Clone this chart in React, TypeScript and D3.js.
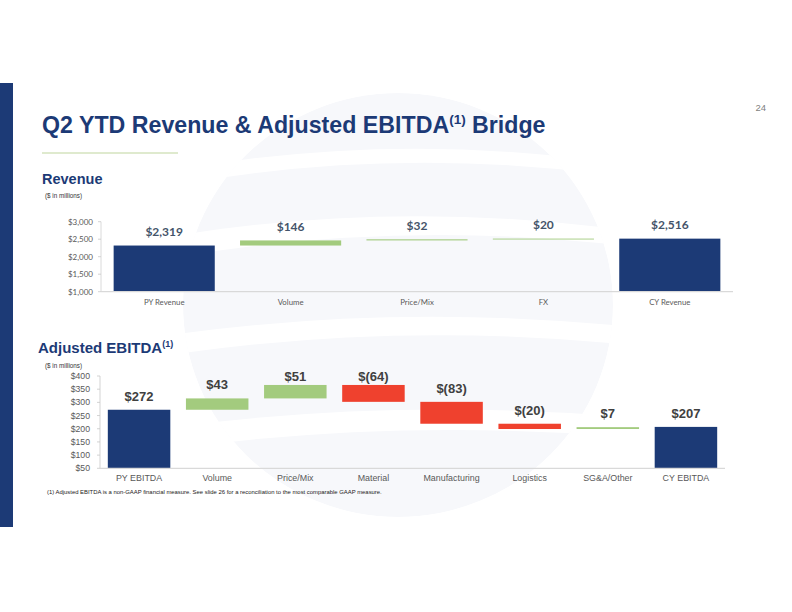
import React from "react";
import * as d3 from "d3";

const revCategories = ["PY Revenue", "Volume", "Price/Mix", "FX", "CY Revenue"];
const revValues = [2319, 146, 32, 20, 2516];
const revIsTotal = [true, false, false, false, true];
const revTicks = [1000, 1500, 2000, 2500, 3000];

const ebCategories = ["PY EBITDA", "Volume", "Price/Mix", "Material", "Manufacturing", "Logistics", "SG&A/Other", "CY EBITDA"];
const ebValues = [272, 43, 51, -64, -83, -20, 7, 207];
const ebIsTotal = [true, false, false, false, false, false, false, true];
const ebTicks = [50, 100, 150, 200, 250, 300, 350, 400];

const NAVY = "#1C3A76";
const GREEN = "#A3CB7E";
const RED = "#EF412E";

type Seg = { cat: string; y0: number; y1: number; v: number; total: boolean };

function waterfall(cats: string[], vals: number[], totals: boolean[]): Seg[] {
  let run = 0;
  return cats.map((c, i) => {
    if (totals[i]) {
      run = vals[i];
      return { cat: c, y0: 0, y1: vals[i], v: vals[i], total: true };
    }
    const s = { cat: c, y0: run, y1: run + vals[i], v: vals[i], total: false };
    run += vals[i];
    return s;
  });
}

const fmtRev = d3.format("$,");
const fmtEb = (v: number) => (v < 0 ? `$(${Math.abs(v)})` : `$${v}`);

export default function App() {
  const revSegs = waterfall(revCategories, revValues, revIsTotal);
  const ebSegs = waterfall(ebCategories, ebValues, ebIsTotal);

  const xRev = d3.scaleBand().domain(revCategories).range([101, 733]).paddingInner(0.2).paddingOuter(0.1);
  const yRev = d3.scaleLinear().domain([1000, 3000]).range([291.7, 221.7]);

  const xEb = d3.scaleBand().domain(ebCategories).range([100, 725]).paddingInner(0.2).paddingOuter(0.1);
  const yEb = d3.scaleLinear().domain([50, 400]).range([468.3, 376]);

  const revFont = "Lato, 'Open Sans', sans-serif";
  const arial = "'Liberation Sans', Arial, sans-serif";

  return (
    <svg width={792} height={612} style={{ position: "absolute", left: 0, top: 0, background: "#fff" }}>
      {/* faint watermark */}
      <defs>
        <clipPath id="globe">
          <ellipse cx={398} cy={305} rx={215} ry={212} />
        </clipPath>
      </defs>
      <g clipPath="url(#globe)">
        <ellipse cx={398} cy={305} rx={215} ry={212} fill="#F7F8FB" />
        <path d="M150,175 Q400,125 660,170 L660,182 Q400,140 150,190 Z" fill="#FFFFFF" />
        <path d="M150,240 Q400,195 660,235 L660,250 Q400,215 150,262 Z" fill="#FFFFFF" />
        <path d="M150,338 Q400,300 660,330 L660,348 Q400,318 150,358 Z" fill="#FFFFFF" />
        <path d="M150,430 Q400,395 660,420 L660,440 Q400,415 150,452 Z" fill="#FFFFFF" />
      </g>

      {/* left bar */}
      <rect x={0} y={83} width={13} height={444} fill={NAVY} />

      {/* page number */}
      <text x={766} y={111} textAnchor="end" fontFamily={arial} fontSize={9.5} fill="#7F7F7F">24</text>

      {/* title */}
      <text x={42} y={133} fontFamily={arial} fontWeight="bold" fontSize={23.2} fill={NAVY}>
        Q2 YTD Revenue &amp; Adjusted EBITDA
        <tspan fontSize={13.5} dy={-9}>(1)</tspan>
        <tspan dy={9}> Bridge</tspan>
      </text>
      <line x1={42} x2={178} y1={153} y2={153} stroke="#D5E3BE" strokeWidth={1.5} />

      {/* Revenue heading */}
      <text x={42} y={184} fontFamily={arial} fontWeight="bold" fontSize={14.5} fill={NAVY}>Revenue</text>
      <text x={45} y={198} fontFamily={arial} fontSize={6.3} fill="#333">($ in millions)</text>

      {/* Revenue chart */}
      <g>
        <line x1={101} x2={101} y1={yRev(3000)} y2={yRev(1000)} stroke="#D0D0D0" strokeWidth={0.8} />
        {revTicks.map((t) => (
          <g key={t}>
            <line x1={98} x2={101} y1={yRev(t)} y2={yRev(t)} stroke="#C8C8C8" strokeWidth={0.8} />
            <text x={93} y={yRev(t) + 2.8} textAnchor="end" fontFamily={revFont} fontSize={8} fill="#595959">{fmtRev(t)}</text>
          </g>
        ))}
        {revSegs.map((s, i) => {
          const top = yRev(Math.max(s.y0, s.y1));
          const bot = yRev(Math.max(Math.min(s.y0, s.y1), 1000));
          return (
            <g key={s.cat}>
              <rect x={xRev(s.cat)} y={top} width={xRev.bandwidth()} height={Math.max(bot - top, 0.9)}
                fill={s.total ? NAVY : GREEN} />
              <text x={(xRev(s.cat) as number) + xRev.bandwidth() / 2} y={top - 9.5} textAnchor="middle"
                fontFamily={revFont} fontWeight="bold" fontSize={12} fill="#44546A">{fmtRev(revValues[i])}</text>
              <text x={(xRev(s.cat) as number) + xRev.bandwidth() / 2} y={yRev(1000) + 13} textAnchor="middle"
                fontFamily={revFont} fontSize={7.8} fill="#595959">{s.cat}</text>
            </g>
          );
        })}
        <line x1={101} x2={733} y1={yRev(1000)} y2={yRev(1000)} stroke="#D9D9D9" strokeWidth={1.2} />
      </g>

      {/* EBITDA heading */}
      <text x={38} y={353} fontFamily={arial} fontWeight="bold" fontSize={15} fill={NAVY}>
        Adjusted EBITDA
        <tspan fontSize={9} dy={-6}>(1)</tspan>
      </text>
      <text x={45} y={368} fontFamily={arial} fontSize={6.3} fill="#333">($ in millions)</text>

      {/* EBITDA chart */}
      <g>
        <line x1={100} x2={100} y1={yEb(400)} y2={yEb(50)} stroke="#C8C8C8" strokeWidth={0.8} />
        {ebTicks.map((t) => (
          <g key={t}>
            <line x1={97} x2={100} y1={yEb(t)} y2={yEb(t)} stroke="#C8C8C8" strokeWidth={0.8} />
            <text x={90} y={yEb(t) + 3} textAnchor="end" fontFamily={arial} fontSize={8.7} fill="#595959">{"$" + t}</text>
          </g>
        ))}
        {ebSegs.map((s) => {
          const top = yEb(Math.max(s.y0, s.y1));
          const bot = yEb(Math.max(Math.min(s.y0, s.y1), 50));
          const cx = (xEb(s.cat) as number) + xEb.bandwidth() / 2;
          const color = s.total ? NAVY : s.v < 0 ? RED : GREEN;
          return (
            <g key={s.cat}>
              <rect x={xEb(s.cat)} y={top} width={xEb.bandwidth()} height={Math.max(bot - top, 1)} fill={color} />
              <text x={cx} y={Math.max(top - 9, yEb(400) + 4.5)} textAnchor="middle"
                fontFamily={arial} fontWeight="bold" fontSize={13} fill="#404040">{fmtEb(s.v)}</text>
              <text x={cx} y={yEb(50) + 13} textAnchor="middle" fontFamily={arial} fontSize={8.9} fill="#595959">{s.cat}</text>
            </g>
          );
        })}
        <line x1={100} x2={725} y1={yEb(50)} y2={yEb(50)} stroke="#D9D9D9" strokeWidth={1.2} />
      </g>

      {/* footnote */}
      <text x={47} y={494} fontFamily={arial} fontSize={5.9} fill="#222">
        (1) Adjusted EBITDA is a non-GAAP financial measure. See slide 26 for a reconciliation to the most comparable GAAP measure.
      </text>
    </svg>
  );
}
